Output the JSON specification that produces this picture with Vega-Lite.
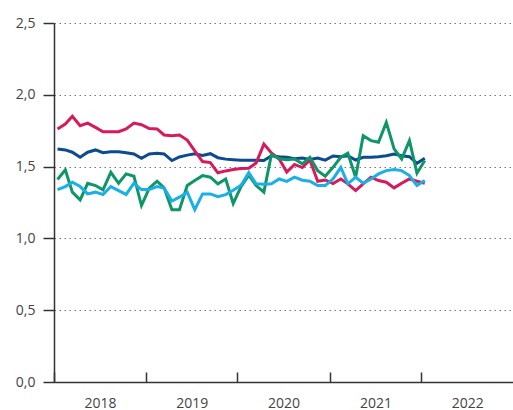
{
  "$schema": "https://vega.github.io/schema/vega-lite/v6.json",
  "width": 459,
  "height": 359,
  "autosize": {"type": "none"},
  "padding": {"left": 54, "top": 23, "right": 0, "bottom": 28},
  "background": "white",
  "config": {"view": {"stroke": null}, "font": "Open Sans"},
  "data": {"values": [
{"m":"2018/01/15","s":"A","v":1.623},{"m":"2018/02/15","s":"A","v":1.616},{"m":"2018/03/15","s":"A","v":1.60},{"m":"2018/04/15","s":"A","v":1.565},{"m":"2018/05/15","s":"A","v":1.60},{"m":"2018/06/15","s":"A","v":1.616},{"m":"2018/07/15","s":"A","v":1.597},{"m":"2018/08/15","s":"A","v":1.604},{"m":"2018/09/15","s":"A","v":1.604},{"m":"2018/10/15","s":"A","v":1.597},{"m":"2018/11/15","s":"A","v":1.588},{"m":"2018/12/15","s":"A","v":1.558},
{"m":"2019/01/15","s":"A","v":1.588},{"m":"2019/02/15","s":"A","v":1.593},{"m":"2019/03/15","s":"A","v":1.588},{"m":"2019/04/15","s":"A","v":1.542},{"m":"2019/05/15","s":"A","v":1.567},{"m":"2019/06/15","s":"A","v":1.58},{"m":"2019/07/15","s":"A","v":1.59},{"m":"2019/08/15","s":"A","v":1.578},{"m":"2019/09/15","s":"A","v":1.59},{"m":"2019/10/15","s":"A","v":1.562},{"m":"2019/11/15","s":"A","v":1.552},{"m":"2019/12/15","s":"A","v":1.548},
{"m":"2020/01/15","s":"A","v":1.545},{"m":"2020/02/15","s":"A","v":1.545},{"m":"2020/03/15","s":"A","v":1.545},{"m":"2020/04/15","s":"A","v":1.542},{"m":"2020/05/15","s":"A","v":1.575},{"m":"2020/06/15","s":"A","v":1.568},{"m":"2020/07/15","s":"A","v":1.565},{"m":"2020/08/15","s":"A","v":1.555},{"m":"2020/09/15","s":"A","v":1.56},{"m":"2020/10/15","s":"A","v":1.55},{"m":"2020/11/15","s":"A","v":1.56},{"m":"2020/12/15","s":"A","v":1.545},
{"m":"2021/01/15","s":"A","v":1.574},{"m":"2021/02/15","s":"A","v":1.569},{"m":"2021/03/15","s":"A","v":1.576},{"m":"2021/04/15","s":"A","v":1.546},{"m":"2021/05/15","s":"A","v":1.565},{"m":"2021/06/15","s":"A","v":1.565},{"m":"2021/07/15","s":"A","v":1.569},{"m":"2021/08/15","s":"A","v":1.576},{"m":"2021/09/15","s":"A","v":1.588},{"m":"2021/10/15","s":"A","v":1.576},{"m":"2021/11/15","s":"A","v":1.569},{"m":"2021/12/15","s":"A","v":1.523},{"m":"2022/01/15","s":"A","v":1.558},
{"m":"2018/01/15","s":"B","v":1.762},{"m":"2018/02/15","s":"B","v":1.796},{"m":"2018/03/15","s":"B","v":1.85},{"m":"2018/04/15","s":"B","v":1.785},{"m":"2018/05/15","s":"B","v":1.803},{"m":"2018/06/15","s":"B","v":1.773},{"m":"2018/07/15","s":"B","v":1.743},{"m":"2018/08/15","s":"B","v":1.743},{"m":"2018/09/15","s":"B","v":1.743},{"m":"2018/10/15","s":"B","v":1.762},{"m":"2018/11/15","s":"B","v":1.803},{"m":"2018/12/15","s":"B","v":1.792},
{"m":"2019/01/15","s":"B","v":1.765},{"m":"2019/02/15","s":"B","v":1.762},{"m":"2019/03/15","s":"B","v":1.72},{"m":"2019/04/15","s":"B","v":1.715},{"m":"2019/05/15","s":"B","v":1.72},{"m":"2019/06/15","s":"B","v":1.685},{"m":"2019/07/15","s":"B","v":1.61},{"m":"2019/08/15","s":"B","v":1.535},{"m":"2019/09/15","s":"B","v":1.528},{"m":"2019/10/15","s":"B","v":1.457},{"m":"2019/11/15","s":"B","v":1.47},{"m":"2019/12/15","s":"B","v":1.48},
{"m":"2020/01/15","s":"B","v":1.486},{"m":"2020/02/15","s":"B","v":1.488},{"m":"2020/03/15","s":"B","v":1.525},{"m":"2020/04/15","s":"B","v":1.657},{"m":"2020/05/15","s":"B","v":1.595},{"m":"2020/06/15","s":"B","v":1.553},{"m":"2020/07/15","s":"B","v":1.462},{"m":"2020/08/15","s":"B","v":1.515},{"m":"2020/09/15","s":"B","v":1.493},{"m":"2020/10/15","s":"B","v":1.546},{"m":"2020/11/15","s":"B","v":1.398},{"m":"2020/12/15","s":"B","v":1.407},
{"m":"2021/01/15","s":"B","v":1.382},{"m":"2021/02/15","s":"B","v":1.414},{"m":"2021/03/15","s":"B","v":1.38},{"m":"2021/04/15","s":"B","v":1.333},{"m":"2021/05/15","s":"B","v":1.38},{"m":"2021/06/15","s":"B","v":1.426},{"m":"2021/07/15","s":"B","v":1.403},{"m":"2021/08/15","s":"B","v":1.391},{"m":"2021/09/15","s":"B","v":1.352},{"m":"2021/10/15","s":"B","v":1.384},{"m":"2021/11/15","s":"B","v":1.414},{"m":"2021/12/15","s":"B","v":1.398},{"m":"2022/01/15","s":"B","v":1.384},
{"m":"2018/01/15","s":"C","v":1.41},{"m":"2018/02/15","s":"C","v":1.477},{"m":"2018/03/15","s":"C","v":1.322},{"m":"2018/04/15","s":"C","v":1.268},{"m":"2018/05/15","s":"C","v":1.384},{"m":"2018/06/15","s":"C","v":1.368},{"m":"2018/07/15","s":"C","v":1.338},{"m":"2018/08/15","s":"C","v":1.46},{"m":"2018/09/15","s":"C","v":1.384},{"m":"2018/10/15","s":"C","v":1.449},{"m":"2018/11/15","s":"C","v":1.433},{"m":"2018/12/15","s":"C","v":1.229},
{"m":"2019/01/15","s":"C","v":1.35},{"m":"2019/02/15","s":"C","v":1.398},{"m":"2019/03/15","s":"C","v":1.352},{"m":"2019/04/15","s":"C","v":1.2},{"m":"2019/05/15","s":"C","v":1.2},{"m":"2019/06/15","s":"C","v":1.368},{"m":"2019/07/15","s":"C","v":1.403},{"m":"2019/08/15","s":"C","v":1.437},{"m":"2019/09/15","s":"C","v":1.426},{"m":"2019/10/15","s":"C","v":1.38},{"m":"2019/11/15","s":"C","v":1.414},{"m":"2019/12/15","s":"C","v":1.243},
{"m":"2020/01/15","s":"C","v":1.36},{"m":"2020/02/15","s":"C","v":1.44},{"m":"2020/03/15","s":"C","v":1.368},{"m":"2020/04/15","s":"C","v":1.322},{"m":"2020/05/15","s":"C","v":1.585},{"m":"2020/06/15","s":"C","v":1.555},{"m":"2020/07/15","s":"C","v":1.548},{"m":"2020/08/15","s":"C","v":1.553},{"m":"2020/09/15","s":"C","v":1.519},{"m":"2020/10/15","s":"C","v":1.565},{"m":"2020/11/15","s":"C","v":1.472},{"m":"2020/12/15","s":"C","v":1.433},
{"m":"2021/01/15","s":"C","v":1.495},{"m":"2021/02/15","s":"C","v":1.565},{"m":"2021/03/15","s":"C","v":1.593},{"m":"2021/04/15","s":"C","v":1.426},{"m":"2021/05/15","s":"C","v":1.715},{"m":"2021/06/15","s":"C","v":1.681},{"m":"2021/07/15","s":"C","v":1.669},{"m":"2021/08/15","s":"C","v":1.808},{"m":"2021/09/15","s":"C","v":1.623},{"m":"2021/10/15","s":"C","v":1.553},{"m":"2021/11/15","s":"C","v":1.681},{"m":"2021/12/15","s":"C","v":1.454},{"m":"2022/01/15","s":"C","v":1.542},
{"m":"2018/01/15","s":"D","v":1.34},{"m":"2018/02/15","s":"D","v":1.361},{"m":"2018/03/15","s":"D","v":1.391},{"m":"2018/04/15","s":"D","v":1.361},{"m":"2018/05/15","s":"D","v":1.31},{"m":"2018/06/15","s":"D","v":1.322},{"m":"2018/07/15","s":"D","v":1.306},{"m":"2018/08/15","s":"D","v":1.361},{"m":"2018/09/15","s":"D","v":1.333},{"m":"2018/10/15","s":"D","v":1.306},{"m":"2018/11/15","s":"D","v":1.384},{"m":"2018/12/15","s":"D","v":1.34},
{"m":"2019/01/15","s":"D","v":1.34},{"m":"2019/02/15","s":"D","v":1.361},{"m":"2019/03/15","s":"D","v":1.35},{"m":"2019/04/15","s":"D","v":1.26},{"m":"2019/05/15","s":"D","v":1.287},{"m":"2019/06/15","s":"D","v":1.322},{"m":"2019/07/15","s":"D","v":1.2},{"m":"2019/08/15","s":"D","v":1.31},{"m":"2019/09/15","s":"D","v":1.31},{"m":"2019/10/15","s":"D","v":1.29},{"m":"2019/11/15","s":"D","v":1.305},{"m":"2019/12/15","s":"D","v":1.335},
{"m":"2020/01/15","s":"D","v":1.37},{"m":"2020/02/15","s":"D","v":1.458},{"m":"2020/03/15","s":"D","v":1.38},{"m":"2020/04/15","s":"D","v":1.377},{"m":"2020/05/15","s":"D","v":1.38},{"m":"2020/06/15","s":"D","v":1.414},{"m":"2020/07/15","s":"D","v":1.397},{"m":"2020/08/15","s":"D","v":1.426},{"m":"2020/09/15","s":"D","v":1.405},{"m":"2020/10/15","s":"D","v":1.398},{"m":"2020/11/15","s":"D","v":1.368},{"m":"2020/12/15","s":"D","v":1.368},
{"m":"2021/01/15","s":"D","v":1.414},{"m":"2021/02/15","s":"D","v":1.495},{"m":"2021/03/15","s":"D","v":1.38},{"m":"2021/04/15","s":"D","v":1.426},{"m":"2021/05/15","s":"D","v":1.384},{"m":"2021/06/15","s":"D","v":1.414},{"m":"2021/07/15","s":"D","v":1.449},{"m":"2021/08/15","s":"D","v":1.472},{"m":"2021/09/15","s":"D","v":1.479},{"m":"2021/10/15","s":"D","v":1.472},{"m":"2021/11/15","s":"D","v":1.438},{"m":"2021/12/15","s":"D","v":1.368},{"m":"2022/01/15","s":"D","v":1.403}
  ]},
  "mark": {"type": "line", "strokeWidth": 3, "strokeJoin": "miter"},
  "encoding": {
    "x": {
      "field": "m", "type": "temporal",
      "scale": {"domain": [{"year": 2018, "month": 1, "date": 1}, {"year": 2023, "month": 1, "date": 1}]},
      "axis": {
        "title": null, "grid": false,
        "values": [{"year": 2018, "month": 1, "date": 1}, {"year": 2019, "month": 1, "date": 1}, {"year": 2020, "month": 1, "date": 1}, {"year": 2021, "month": 1, "date": 1}, {"year": 2022, "month": 1, "date": 1}],
        "format": "%Y",
        "tickSize": -10, "tickWidth": 1.5, "tickColor": "#333",
        "domainColor": "#333", "domainWidth": 1.5,
        "labelOffset": 46, "labelAlign": "center", "labelPadding": 24,
        "labelFontSize": 14, "labelColor": "#444", "labelFont": "Open Sans"
      }
    },
    "y": {
      "field": "v", "type": "quantitative",
      "scale": {"domain": [0, 2.5], "nice": false},
      "axis": {
        "title": null,
        "values": [0, 0.5, 1, 1.5, 2, 2.5],
        "labelExpr": "replace(format(datum.value, '.1f'), '.', ',')",
        "grid": true, "gridDash": [1.5, 3.5], "gridColor": "#777", "gridWidth": 1,
        "tickSize": 11, "tickWidth": 1.5, "tickColor": "#333",
        "domainColor": "#333", "domainWidth": 1.5,
        "labelPadding": 8, "labelFontSize": 14, "labelColor": "#444", "labelFont": "Open Sans"
      }
    },
    "color": {
      "field": "s", "type": "nominal", "legend": null,
      "scale": {"domain": ["A", "B", "C", "D"], "range": ["#0b4b8e", "#d61a5c", "#0e9669", "#1ab0e6"]}
    }
  }
}
